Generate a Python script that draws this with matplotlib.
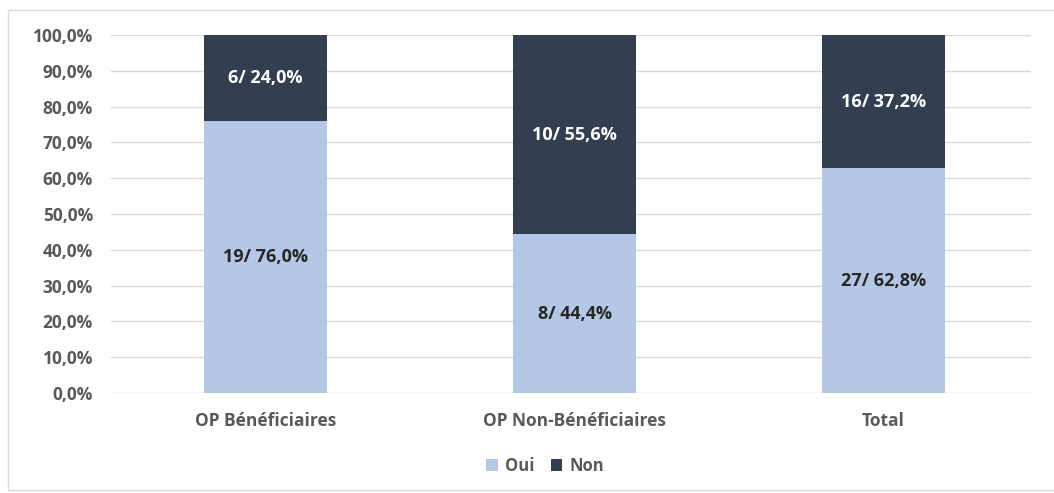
import matplotlib.pyplot as plt
from matplotlib.patches import Rectangle
from matplotlib.ticker import FuncFormatter

categories = ["OP Bénéficiaires", "OP Non-Bénéficiaires", "Total"]
oui_counts = [19, 8, 27]
oui_pct = [76.0, 44.4, 62.8]
non_counts = [6, 10, 16]
non_pct = [24.0, 55.6, 37.2]

c_oui = "#B4C7E7"
c_non = "#333F50"
txt_grey = "#595959"

plt.rcParams['font.family'] = ['Open Sans', 'DejaVu Sans']

fig = plt.figure(figsize=(10.54, 4.93), dpi=100)
fig.patches.append(Rectangle((8/1054, 3/493), 1 - 8/1054 + 0.01, 1 - 13/493, transform=fig.transFigure,
                             fill=False, edgecolor="#D9D9D9", linewidth=1))
ax = fig.add_axes([111/1054, 1 - 393/493, 920/1054, 358/493])

x = list(range(len(categories)))
b1 = ax.bar(x, oui_pct, width=0.4, color=c_oui, label="Oui", zorder=2)
b2 = ax.bar(x, non_pct, width=0.4, bottom=oui_pct, color=c_non, label="Non", zorder=2)

for i in x:
    ax.text(i, oui_pct[i] / 2, f"{oui_counts[i]}/ {oui_pct[i]:.1f}%".replace('.', ','),
            ha='center', va='center', fontsize=13, fontweight='bold', color='#262626')
    ax.text(i, oui_pct[i] + non_pct[i] / 2, f"{non_counts[i]}/ {non_pct[i]:.1f}%".replace('.', ','),
            ha='center', va='center', fontsize=13, fontweight='bold', color='white')

ax.set_xlim(-0.5, 2.5 - 7/309)
ax.set_ylim(0, 100)
ax.set_yticks(range(0, 101, 10))
ax.yaxis.set_major_formatter(FuncFormatter(lambda v, p: f"{v:.1f}%".replace('.', ',')))
ax.set_xticks(x)
ax.set_xticklabels(categories)
ax.grid(axis='y', color='#D9D9D9', linewidth=1, zorder=0)
for s in ax.spines.values():
    s.set_visible(False)
ax.tick_params(axis='both', length=0, colors=txt_grey, labelsize=12.5)
for lab in ax.get_yticklabels() + ax.get_xticklabels():
    lab.set_fontweight('bold')
ax.tick_params(axis='y', pad=13)
ax.tick_params(axis='x', pad=14)

leg = fig.legend(handles=[b1, b2], labels=["Oui", "Non"], loc='center', ncol=2,
                 bbox_to_anchor=(545/1054, 1 - 466/493), frameon=False,
                 handlelength=0.7, handleheight=0.7, handletextpad=0.4, columnspacing=1.0,
                 prop={'size': 12, 'weight': 'bold'})
for t in leg.get_texts():
    t.set_color(txt_grey)

fig.savefig("out.png", dpi=100)
